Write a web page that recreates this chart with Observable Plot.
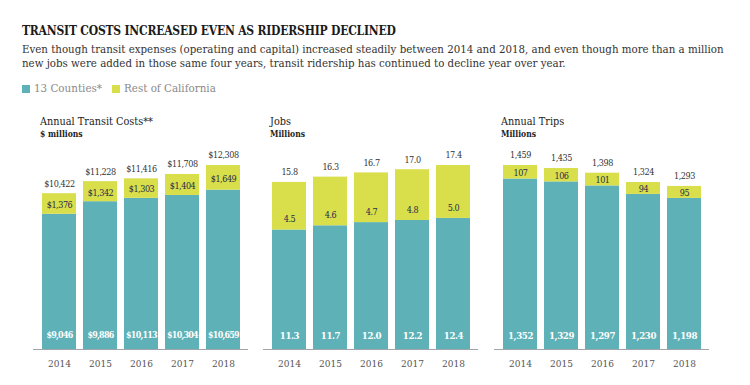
<!DOCTYPE html>
<html>
<head>
<meta charset="utf-8">
<script src="https://cdn.jsdelivr.net/npm/d3@7"></script>
<script src="https://cdn.jsdelivr.net/npm/@observablehq/plot@0.6"></script>
<style>
  html, body { margin: 0; padding: 0; background: #fff; }
  #root { position: relative; width: 750px; height: 385px; overflow: hidden;
          font-family: "DejaVu Serif Condensed", "DejaVu Serif", serif; }
  .abs { position: absolute; white-space: nowrap; line-height: 1; }
  #title { left: 22px; top: 25px; font-size: 12px; letter-spacing: -0.2px; font-weight: bold; color: #1a1a1a; }
  #sub { left: 22px; top: 42px; font-size: 11.4px; color: #333; line-height: 14px; }
  #legend { left: 22px; top: 83px; font-size: 11.5px; color: #8a8a8a; display: flex; align-items: center; }
  .sw { display: inline-block; width: 8px; height: 8px; margin-right: 4px; }
  .ptitle { position: absolute; font-size: 10.8px; color: #222; line-height: 1; white-space: nowrap; }
  .punit { font-size: 8.5px; font-weight: bold; margin-top: 2px; }
  .panel { position: absolute; top: 140px; }
</style>
</head>
<body>
<div id="root">
  <div id="title" class="abs">TRANSIT COSTS INCREASED EVEN AS RIDERSHIP DECLINED</div>
  <div id="sub" class="abs">Even though transit expenses (operating and capital) increased steadily between 2014 and 2018, and even though more than a million<br>new jobs were added in those same four years, transit ridership has continued to decline year over year.</div>
  <div id="legend" class="abs"></div>
</div>
<script>
const years = ["2014", "2015", "2016", "2017", "2018"];
const seriesNames = ["13 Counties*", "Rest of California"];
const seriesColors = ["#5db1b7", "#d9de4b"];

const costs13 = [9046, 9886, 10113, 10304, 10659];
const costsRest = [1376, 1342, 1303, 1404, 1649];
const costsTotal = [10422, 11228, 11416, 11708, 12308];

const jobs13 = [11.3, 11.7, 12.0, 12.2, 12.4];
const jobsRest = [4.5, 4.6, 4.7, 4.8, 5.0];
const jobsTotal = [15.8, 16.3, 16.7, 17.0, 17.4];

const trips13 = [1352, 1329, 1297, 1230, 1198];
const tripsRest = [107, 106, 101, 94, 95];
const tripsTotal = [1459, 1435, 1398, 1324, 1293];

const panelTitles = ["Annual Transit Costs**", "Jobs", "Annual Trips"];
const panelUnits = ["$ millions", "Millions", "Millions"];

const root = document.getElementById("root");
const FONT = "'DejaVu Serif Condensed', 'DejaVu Serif', serif";

// legend
const legend = document.getElementById("legend");
seriesNames.forEach((n, i) => {
  const sw = document.createElement("span");
  sw.className = "sw";
  sw.style.background = seriesColors[i];
  const t = document.createElement("span");
  t.textContent = n;
  t.style.marginRight = i === 0 ? "10px" : "0";
  legend.appendChild(sw);
  legend.appendChild(t);
});

const comma = d3.format(",");
const fmts = [d => "$" + comma(d), d => d.toFixed(1), d => comma(d)];
const bases = [costs13, jobs13, trips13];
const rests = [costsRest, jobsRest, tripsRest];
const totals = [costsTotal, jobsTotal, tripsTotal];
const lefts = [33, 263, 494];
const whiteSizes = [8.9, 9.6, 9.6];

for (let p = 0; p < 3; p++) {
  const rows = years.map((year, i) => ({
    year, base: bases[p][i], rest: rests[p][i], total: totals[p][i]
  }));
  const fmt = fmts[p];
  const restOpts = {x: "year", text: d => fmt(d.rest), fill: "#272b4a", fontSize: 9};
  const restLabel = p === 1
    ? Plot.text(rows, {...restOpts, y: "base", dy: -10.5})
    : Plot.text(rows, {...restOpts, y: d => (d.base + d.total) / 2, dy: 1});

  const chart = Plot.plot({
    width: 215, height: 239,
    marginLeft: 0, marginRight: 0, marginTop: 25, marginBottom: 30,
    x: {domain: years, padding: 0.18, axis: null},
    y: {domain: [0, d3.max(totals[p])], axis: null},
    style: {fontFamily: FONT, background: "transparent", overflow: "visible"},
    marks: [
      Plot.barY(rows, {x: "year", y1: 0, y2: "base", fill: seriesColors[0]}),
      Plot.barY(rows, {x: "year", y1: "base", y2: "total", fill: seriesColors[1]}),
      Plot.ruleY([0], {stroke: "#a0a4ab", strokeWidth: 1.2}),
      Plot.axisX({tickSize: 0, tickPadding: 10, fontSize: 10, color: "#555", label: null}),
      Plot.text(rows, {x: "year", y: "total", dy: -10, text: d => fmt(d.total), fill: "#333", fontSize: 9}),
      restLabel,
      Plot.text(rows, {x: "year", y: 0, dy: -14, text: d => fmt(d.base), fill: "white", fontSize: whiteSizes[p], fontWeight: "bold"})
    ]
  });
  // tighten numeric labels (not the year axis)
  const textGroups = d3.select(chart).selectAll("g[aria-label='text']");
  textGroups.selectAll("text").style("letter-spacing", "-0.45px");
  d3.select(textGroups.nodes()[textGroups.size() - 1]).selectAll("text").style("letter-spacing", p === 0 ? "-0.75px" : "-0.4px");
  const div = document.createElement("div");
  div.className = "panel";
  div.style.left = lefts[p] + "px";
  div.appendChild(chart);
  root.appendChild(div);

  const t = document.createElement("div");
  t.className = "ptitle";
  t.style.left = (lefts[p] + 7) + "px";
  t.style.top = "117px";
  t.innerHTML = panelTitles[p] + '<div class="punit">' + panelUnits[p] + '</div>';
  root.appendChild(t);
}
</script>
</body>
</html>
